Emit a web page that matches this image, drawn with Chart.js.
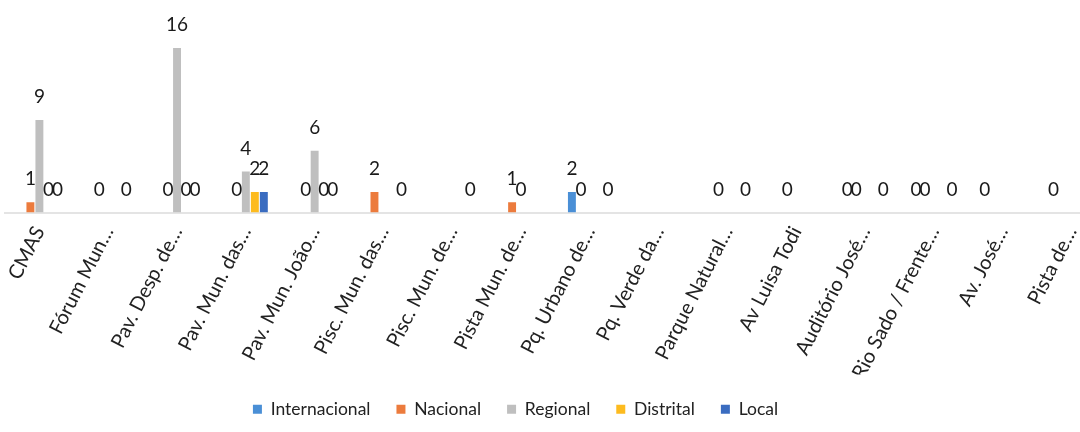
<!DOCTYPE html>
<html>
<head>
<meta charset="utf-8">
<script src="https://cdn.jsdelivr.net/npm/chart.js@4.4.1/dist/chart.umd.min.js"></script>
<style>
  html, body { margin: 0; padding: 0; background: #fff; overflow: hidden; }
  #wrap { width: 1192px; height: 432px; margin-left: -80px; }
</style>
</head>
<body>
<div id="wrap"><canvas id="chart" width="1192" height="432"></canvas></div>
<script>
// categories (as shown, truncated like the original)
const categories = [
  "CMAS", "Fórum Mun…", "Pav. Desp. de…", "Pav. Mun. das…", "Pav. Mun. João…",
  "Pisc. Mun. das…", "Pisc. Mun. de…", "Pista Mun. de…", "Pq. Urbano de…",
  "Pq. Verde da…", "Parque Natural…", "Av Luisa Todi", "Auditório José…",
  "Rio Sado / Frente…", "Av. José…", "Pista de…"
];

// series values (null = empty cell, no label)
const internacional = [null, null, null, null, null, null, null, null, 2, null, null, null, 0, 0, 0, 0];
const nacional      = [1, 0, 0, 0, 0, 2, null, 1, 0, null, 0, 0, 0, 0, null, null];
const regional      = [9, null, 16, 4, 6, null, null, 0, null, null, null, null, null, null, null, null];
const distrital     = [0, null, 0, 2, 0, null, null, null, null, null, null, null, null, null, null, null];
const local         = [0, 0, 0, 2, 0, 0, 0, null, 0, null, 0, null, 0, 0, null, null];

const seriesNames = ["Internacional", "Nacional", "Regional", "Distrital", "Local"];
const seriesColors = ["#4a8fd6", "#ec7b3d", "#bfbfbf", "#fdbb1f", "#3a6cc0"];
const seriesData = [internacional, nacional, regional, distrital, local];

// value labels above each bar
const valueLabels = {
  id: "valueLabels",
  afterDatasetsDraw(chart) {
    const ctx = chart.ctx;
    ctx.save();
    ctx.font = "19px Lato";
    ctx.fillStyle = "#1a1a1a";
    ctx.textAlign = "center";
    ctx.textBaseline = "middle";
    chart.data.datasets.forEach((ds, i) => {
      const meta = chart.getDatasetMeta(i);
      meta.data.forEach((bar, j) => {
        const v = ds.data[j];
        if (v === null || v === undefined) return;
        ctx.fillText(String(v), bar.x, bar.y - 23);
      });
    });
    ctx.restore();
  }
};

const ctx = document.getElementById("chart").getContext("2d");

new Chart(ctx, {
  type: "bar",
  data: {
    labels: categories,
    datasets: seriesNames.map((name, i) => ({
      label: name,
      data: seriesData[i],
      backgroundColor: seriesColors[i],
      categoryPercentage: 0.654,
      barPercentage: 0.88,
      skipNull: false
    }))
  },
  options: {
    responsive: false,
    animation: false,
    layout: { padding: { top: 7, left: 5, right: 6, bottom: 4 } },
    plugins: {
      legend: {
        position: "bottom",
        labels: {
          boxWidth: 9,
          boxHeight: 9,
          padding: 26,
          color: "#222",
          font: { family: "Lato", size: 17.5 }
        }
      },
      tooltip: { enabled: false }
    },
    scales: {
      x: {
        grid: { display: false, drawTicks: false },
        border: { display: true, color: "#e4e4e4", width: 2 },
        ticks: {
          minRotation: 63,
          maxRotation: 63,
          autoSkip: false,
          padding: 10,
          color: "#222",
          font: { family: "Lato", size: 20 }
        },
        afterFit: (axis) => { axis.height = 162; }
      },
      // hidden axis, only keeps the empty strip on the left of the plot
      y: {
        display: true,
        min: 0,
        max: 20,
        grid: { display: false, drawTicks: false },
        border: { display: false },
        ticks: { display: false },
        afterFit: (axis) => { axis.width = 80; }
      }
    }
  },
  plugins: [valueLabels]
});
</script>
</body>
</html>
